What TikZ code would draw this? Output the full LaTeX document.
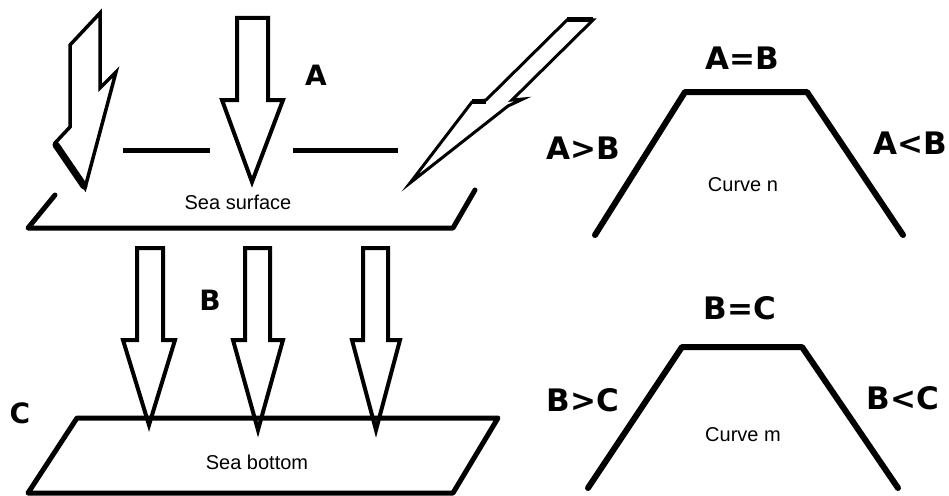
\documentclass[tikz,border=0pt]{standalone}
\usepackage{fontspec}
\setmainfont{Liberation Sans}
\newfontfamily\lblfont{DejaVu Sans}
\begin{document}
\begin{tikzpicture}[x=1pt,y=-1pt,
  surf/.style={line width=5pt,line cap=round,line join=round},
  arr/.style={line width=4pt,line join=miter,fill=white},
  lbl/.style={font=\lblfont\bfseries\fontsize{31}{33}\selectfont,inner sep=0pt},
  single/.style={font=\lblfont\bfseries\fontsize{28}{30}\selectfont,inner sep=0pt},
  small/.style={font=\fontsize{20}{22}\selectfont,inner sep=0pt}]
\fill[white] (0,0) rectangle (949,495);
\useasboundingbox (0,0) rectangle (949,495);
% left lightning arrow
\draw[line width=3.5pt,line join=miter] (70,45) -- (100,13) -- (100,88) -- (116,72) -- (85,188) -- (55,143) -- (70,127) -- cycle;
\draw[line width=7pt,line cap=round] (56,145) -- (84,186);
% middle arrow A
\draw[arr] (237,18) -- (268,18) -- (268,100) -- (283,100) -- (252,182) -- (222,100) -- (237,100) -- cycle;
% horizontal lines
\draw[line width=5pt] (123,150) -- (210,150);
\draw[line width=5pt] (293,150) -- (398,150);
% right lightning arrow
\draw[line width=3pt,line join=miter] (567,20) -- (593,20) -- (512,100) -- (523,99) -- (508,106) -- (410,183) -- (472,102) -- (486,100) -- cycle;
\draw[line width=5pt] (567,20) -- (593,20);
\draw[line width=5pt] (472,101) -- (486,101);
% sea surface
\draw[surf] (55,195) -- (28,228) -- (453,228) -- (475,190);
\node[small] (ss) at (238,202) {Sea surface};
% B arrows
\draw[arr] (137,248) -- (163,248) -- (163,340) -- (175,340) -- (149,425) -- (123,340) -- (137,340) -- cycle;
\draw[arr] (245,248) -- (270,248) -- (270,340) -- (283,340) -- (258,430) -- (233,340) -- (245,340) -- cycle;
\draw[arr] (363,248) -- (388,248) -- (388,340) -- (400,340) -- (376,430) -- (352,340) -- (363,340) -- cycle;
% sea bottom
\draw[surf] (77,418) -- (498,418) -- (453,493) -- (28,493) -- cycle;
\node[small] (sb) at (257,462) {Sea bottom};
% labels
\node[single] (la) at (316,75) {A};
\node[single] (lb) at (210,300) {B};
\node[single] (lc) at (20,413) {C};
% curve n
\draw[surf,line width=6pt] (595,235) -- (685,92) -- (807,92) -- (903,235);
\node[lbl] (ab1) at (742,58) {A=B};
\node[lbl] (ab2) at (583,148) {A>B};
\node[lbl] (ab3) at (910,143) {A<B};
\node[small] (cn) at (743,185) {Curve n};
% curve m
\draw[surf,line width=6pt] (588,488) -- (682,347) -- (802,347) -- (898,488);
\node[lbl] (bc1) at (740,308) {B=C};
\node[lbl] (bc2) at (583,400) {B>C};
\node[lbl] (bc3) at (903,398) {B<C};
\node[small] (cm) at (743,435) {Curve m};
\end{tikzpicture}
\end{document}
